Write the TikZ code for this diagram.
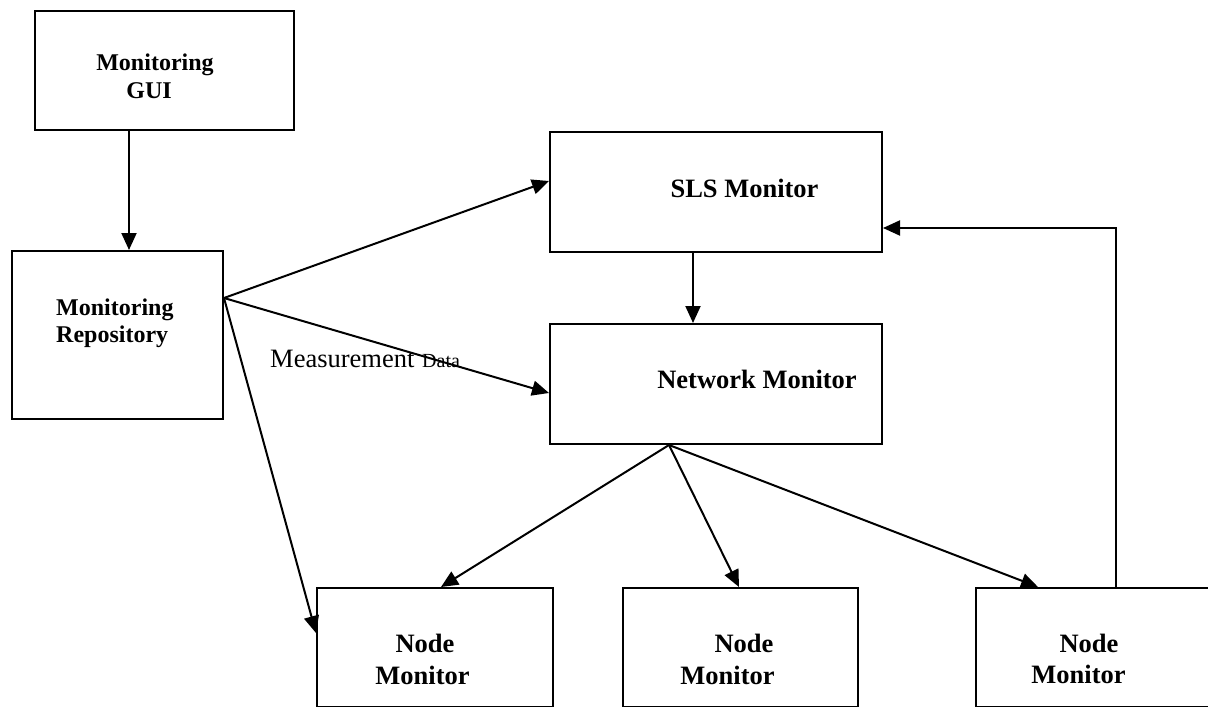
\documentclass[tikz,border=0pt]{standalone}
\usepackage{fontspec}
\setmainfont{Liberation Serif}
\usetikzlibrary{arrows.meta}
\begin{document}
\begin{tikzpicture}[x=1pt,y=-1pt,
  box/.style={draw,line width=2pt,inner sep=0pt,anchor=north west},
  conn/.style={line width=2pt,-{Triangle[length=17pt,width=15pt]}},
  lbl/.style={anchor=base,inner sep=0pt,font=\fontsize{24}{28}\selectfont\bfseries},
  lblb/.style={anchor=base,inner sep=0pt,font=\fontsize{26.5}{31}\selectfont\bfseries},
  plain/.style={anchor=base west,inner sep=0pt}]
\useasboundingbox (0,0) rectangle (1208,707);
\clip (0,0) rectangle (1208,707);
\fill[white] (0,0) rectangle (1208,707);
% boxes
\node[box,minimum width=259pt,minimum height=119pt] (gui) at (34,10) {};
\node[box,minimum width=211pt,minimum height=168pt] (repo) at (11,250) {};
\node[box,minimum width=332pt,minimum height=120pt] (sls) at (549,131) {};
\node[box,minimum width=332pt,minimum height=120pt] (net) at (549,323) {};
\node[box,minimum width=236pt,minimum height=119pt] (n1) at (316,587) {};
\node[box,minimum width=235pt,minimum height=119pt] (n2) at (622,587) {};
\node[box,minimum width=300pt,minimum height=119pt] (n3) at (975,587) {};
% texts
\node[lbl] (guiA) at (155,70) {Monitoring};
\node[lbl] (guiB) at (149,98) {GUI};
\node[lbl,anchor=base west] (repoA) at (56,315) {Monitoring};
\node[lbl,anchor=base west] (repoB) at (56,342) {Repository};
\node[lblb] (slsT) at (744.5,197) {SLS Monitor};
\node[lblb] (netT) at (757,388) {Network Monitor};
\node[lblb] (n1A) at (425,652) {Node};
\node[lblb] (n1B) at (422.5,684) {Monitor};
\node[lblb] (n2A) at (744,652) {Node};
\node[lblb] (n2B) at (727.5,684) {Monitor};
\node[lblb] (n3A) at (1089,652) {Node};
\node[lblb] (n3B) at (1078.5,683) {Monitor};
\node[plain,font=\fontsize{26.5}{30}\selectfont] (meas) at (270,367) {Measurement};
\node[plain,font=\fontsize{20}{24}\selectfont] (data) at (422,367) {Data};
% connectors
\draw[conn] ([xshift=-35.5pt]gui.south) -- ([xshift=11.5pt]repo.north);
\draw[conn] ([yshift=37pt]repo.east) -- ([yshift=11pt]sls.west);
\draw[conn] ([yshift=37pt]repo.east) -- ([yshift=-9pt]net.west);
\draw[conn] ([yshift=37pt]repo.east) -- ([yshift=14.5pt]n1.west);
\draw[conn] ([xshift=-23pt]sls.south) -- ([xshift=-23pt]net.north);
\draw[conn] ([xshift=-47pt]net.south) -- ([xshift=6pt]n1.north);
\draw[conn] ([xshift=-47pt]net.south) -- ([xshift=-1.5pt]n2.north);
\draw[conn] ([xshift=-47pt]net.south) -- ([xshift=-88pt]n3.north);
\draw[conn] ([xshift=-10pt]n3.north) |- ([yshift=-36pt]sls.east);
\end{tikzpicture}
\end{document}
